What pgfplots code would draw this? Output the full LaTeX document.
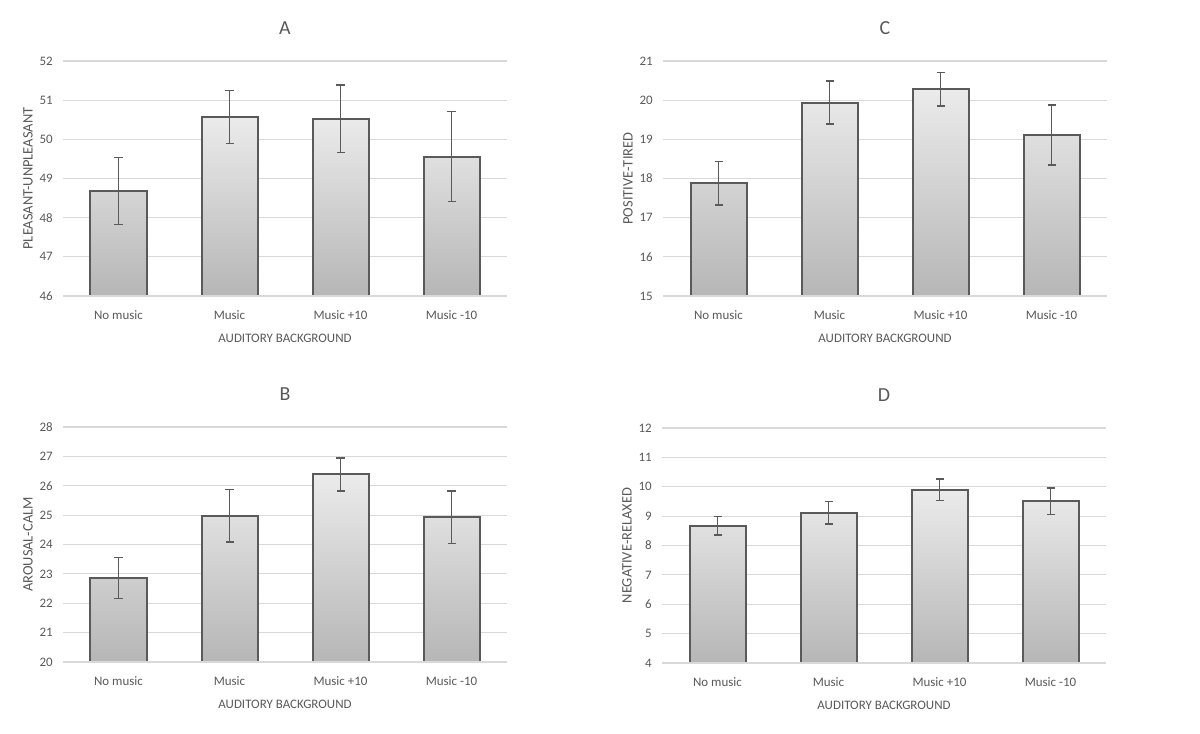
\documentclass[border=0pt]{standalone}
\usepackage{fontspec}
\setmainfont{Carlito}
\usepackage{pgfplots}
\pgfplotsset{compat=1.18}
\usepackage{pgfplotstable}

\definecolor{txt}{HTML}{595959}
\definecolor{gridc}{HTML}{D9D9D9}
\definecolor{edge}{HTML}{5A5A5A}
\definecolor{bartop}{HTML}{EBEBEB}
\definecolor{barbot}{HTML}{B6B6B6}

% A: pleasant-unpleasant
\pgfplotstableread{
x y err
0 48.68 0.86
1 50.57 0.68
2 50.53 0.86
3 49.56 1.15
}\dataA
% B: arousal-calm
\pgfplotstableread{
x y err
0 22.86 0.70
1 24.98 0.90
2 26.39 0.56
3 24.93 0.90
}\dataB
% C: positive-tired
\pgfplotstableread{
x y err
0 17.88 0.56
1 19.94 0.55
2 20.28 0.43
3 19.11 0.77
}\dataC
% D: negative-relaxed
\pgfplotstableread{
x y err
0 8.67 0.31
1 9.12 0.38
2 9.90 0.36
3 9.51 0.45
}\dataD

\pgfplotsset{
  panel/.style={
    scale only axis, width=444bp, height=235bp,
    anchor=south west,
    xmin=-0.5, xmax=3.5,
    xtick={0,1,2,3},
    xticklabels={No music, Music, Music +10, Music -10},
    axis line style={draw=none},
    major tick length=0pt,
    ymajorgrids, grid style={gridc, line width=1.2bp},
    tick label style={font=\fontsize{13}{15}\selectfont, text=txt},
    yticklabel style={anchor=east, inner sep=0pt, xshift=-10bp},
    xticklabel style={anchor=center, inner sep=0pt, yshift=-19bp},
    /pgf/number format/assume math mode=true,
    xlabel={AUDITORY BACKGROUND},
    xlabel style={font=\fontsize{13}{15}\selectfont, text=txt,
      at={(axis description cs:0.5,-0.179)}, anchor=center},
    ylabel style={font=\fontsize{14.5}{16}\selectfont, text=txt,
      at={(axis description cs:-0.079,0.5)}, anchor=center},
    title style={font=\fontsize{20}{22}\selectfont, text=txt,
      at={(axis description cs:0.5,1.115)}, anchor=center},
  },
  base/.style={
    ymin=#1,
    y coord trafo/.code={\pgfmathparse{##1-#1}},
    y coord inv trafo/.code={\pgfmathparse{##1+#1}},
  },
  bars/.style={
    ybar, bar width=56bp, bar shift=0pt,
    draw=edge, line width=2bp,
    top color=bartop, bottom color=barbot,
    error bars/.cd, y dir=both, y explicit,
    error bar style={edge, line width=1.5bp},
    error mark options={rotate=90, mark size=4bp, line width=1.5bp, edge},
  },
}
% the bottom grid line runs over the foot of the bars, as in the original
\tikzset{footline/.style={draw=gridc, line width=2.4bp}}

\begin{document}
\begin{tikzpicture}
\path[use as bounding box] (0,0) rectangle (1200bp,-734bp);

\begin{axis}[panel, base=46, ymax=52, ytick={46,...,52},
  at={(63bp,-296bp)}, title={A}, ylabel={PLEASANT-UNPLEASANT}]
\addplot[bars] table[x=x, y=y, y error=err] {\dataA};
\path[footline] (rel axis cs:0,0) -- (rel axis cs:1,0);
\end{axis}

\begin{axis}[panel, base=15, ymax=21, ytick={15,...,21},
  at={(663bp,-296bp)}, title={C}, ylabel={POSITIVE-TIRED}]
\addplot[bars] table[x=x, y=y, y error=err] {\dataC};
\path[footline] (rel axis cs:0,0) -- (rel axis cs:1,0);
\end{axis}

\begin{axis}[panel, base=20, ymax=28, ytick={20,...,28},
  at={(63bp,-662bp)}, title={B}, ylabel={AROUSAL-CALM}]
\addplot[bars] table[x=x, y=y, y error=err] {\dataB};
\path[footline] (rel axis cs:0,0) -- (rel axis cs:1,0);
\end{axis}

\begin{axis}[panel, base=4, ymax=12, ytick={4,...,12},
  at={(662bp,-663bp)}, title={D}, ylabel={NEGATIVE-RELAXED}]
\addplot[bars] table[x=x, y=y, y error=err] {\dataD};
\path[footline] (rel axis cs:0,0) -- (rel axis cs:1,0);
\end{axis}
\end{tikzpicture}
\end{document}
